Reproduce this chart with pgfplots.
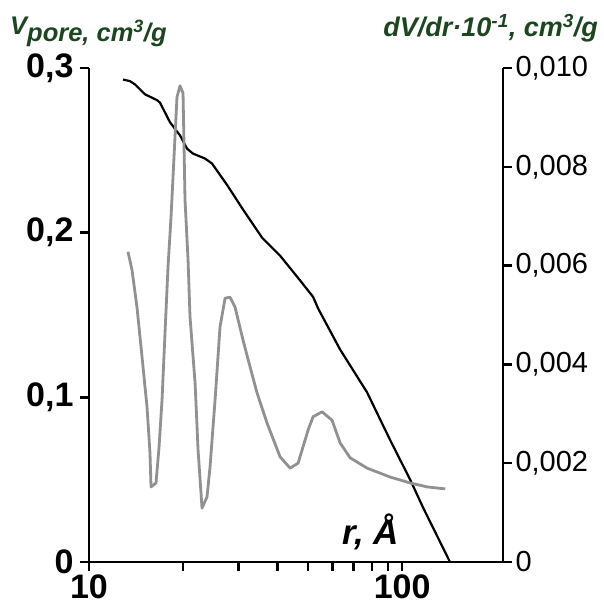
\documentclass[border=0pt]{standalone}
\usepackage{pgfplots}
\pgfplotsset{compat=1.18}
\usepackage{pgfplotstable}
\usepackage{fontspec}
\setmainfont{Liberation Sans}
\definecolor{titlegreen}{RGB}{28,70,32}
\definecolor{curvegray}{RGB}{145,145,145}

% cumulative pore volume, left axis
\pgfplotstableread{
r V
12.84 0.293
13.52 0.292
14.03 0.290
15.10 0.284
16.49 0.2805
16.85 0.279
18.15 0.267
19.54 0.259
20.57 0.251
21.49 0.248
23.48 0.245
24.71 0.242
27.60 0.229
31.05 0.214
35.70 0.197
40.77 0.186
47.22 0.171
51.96 0.161
53.9 0.154
63.4 0.129
77.3 0.103
91.6 0.074
106.1 0.050
116.7 0.033
142.2 0.0
}\cumdata

% pore size distribution, right axis
\pgfplotstableread{
r dV
13.32 0.00628
13.72 0.00591
14.23 0.00516
14.77 0.00415
15.32 0.00314
15.66 0.00221
15.78 0.00152
16.37 0.00160
16.74 0.00233
17.11 0.00328
17.49 0.00464
17.88 0.00597
18.28 0.00698
19.10 0.00941
19.53 0.00964
19.97 0.00949
20.26 0.00733
20.72 0.00611
21.02 0.00496
21.82 0.00362
22.30 0.00227
22.96 0.00109
23.82 0.00132
24.35 0.00192
25.27 0.00328
26.21 0.00476
27.20 0.00534
28.21 0.00536
29.27 0.00516
31.05 0.00449
32.69 0.00395
34.42 0.00342
37.05 0.00281
40.75 0.00213
43.87 0.00190
46.53 0.00200
50.08 0.00267
51.96 0.00294
55.52 0.00304
59.75 0.00287
63.39 0.00241
68.22 0.00211
77.30 0.00190
91.55 0.00172
106.1 0.00160
120.2 0.00152
137.3 0.00148
}\distdata

\begin{document}
\begin{tikzpicture}[x=1pt,y=1pt]
\useasboundingbox (0,0) rectangle (603,608);
\begin{axis}[
 at={(89pt,46pt)},anchor=south west,scale only axis,
 width=414pt,height=494pt,
 xmode=log,xmin=10,xmax=210,
 ymin=0,ymax=0.3,
 axis x line*=bottom,axis y line*=left,
 axis line style={-,line width=2.4pt},
 tick style={line width=2.4pt,black},
 tick align=outside,
 major tick length=9pt,minor tick length=9pt,
 clip=false,
 xtick={10,100},xticklabels={10,100},
 minor xtick={20,30,40,50,60,70,80,90},
 ytick={0,0.1,0.2,0.3},yticklabels={0,{0,1},{0,2},{0,3}},
 ticklabel style={font=\fontsize{34}{34}\selectfont\bfseries},
 yticklabel style={xshift=-3pt},
]
\addplot[black,line width=2.2pt,line join=round] table[x=r,y=V] {\cumdata};
\node[anchor=base,font=\fontsize{35}{35}\selectfont\bfseries\itshape] at (rel axis cs:0.68,0.035) {r, Å};
\end{axis}
\begin{axis}[
 at={(89pt,46pt)},anchor=south west,scale only axis,
 width=414pt,height=494pt,
 xmode=log,xmin=10,xmax=210,
 ymin=0,ymax=0.010,
 scaled y ticks=false,
 axis x line=none,axis y line*=right,
 axis line style={-,line width=2.4pt},
 tick style={line width=2.4pt,black},
 tick align=outside,
 major tick length=9pt,
 clip=false,
 ytick={0,0.002,0.004,0.006,0.008,0.010},
 yticklabels={0,{0,002},{0,004},{0,006},{0,008},{0,010}},
 ticklabel style={font=\fontsize{29}{29}\selectfont},
]
\addplot[curvegray,line width=2.8pt,line join=round] table[x=r,y=dV] {\distdata};
\end{axis}
\node[anchor=base west,text=titlegreen,inner sep=0pt,font=\fontsize{25.5}{25}\selectfont\bfseries\itshape] at (10,566) {\raisebox{7pt}{V}pore, cm\textsuperscript{3}/g};
\node[anchor=base east,text=titlegreen,inner sep=0pt,font=\fontsize{27}{27}\selectfont\bfseries\itshape] at (598,571) {dV/dr·10\textsuperscript{-1}, cm\textsuperscript{3}/g};
\end{tikzpicture}
\end{document}
